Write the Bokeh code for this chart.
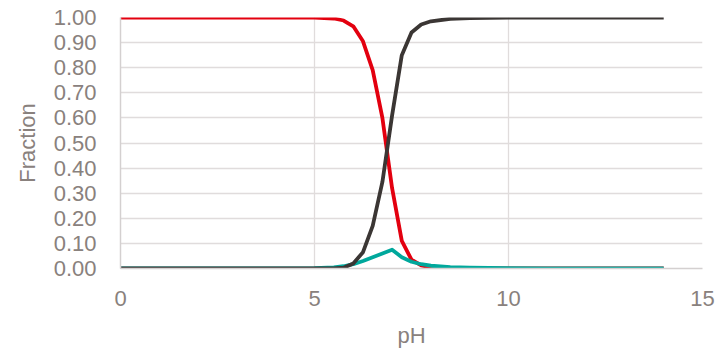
from bokeh.plotting import figure
from bokeh.models import FixedTicker, NumeralTickFormatter, Range1d
from bokeh.embed import file_html
from bokeh.resources import INLINE

ph = [0, 1, 2, 3, 4, 5, 5.5, 5.75, 6.0, 6.25, 6.5, 6.75, 7.0, 7.25, 7.5, 7.75, 8.0, 8.5, 9, 10, 11, 12, 13, 14]
red = [1, 1, 1, 1, 1, 1, 0.996, 0.988, 0.965, 0.905, 0.79, 0.6, 0.32, 0.11, 0.035, 0.012, 0.004, 0.001, 0, 0, 0, 0, 0, 0]
black = [0, 0, 0, 0, 0, 0, 0, 0.003, 0.02, 0.065, 0.17, 0.345, 0.61, 0.85, 0.94, 0.972, 0.985, 0.995, 0.998, 1, 1, 1, 1, 1]
teal = [0, 0, 0, 0, 0, 0.001, 0.004, 0.009, 0.017, 0.03, 0.045, 0.06, 0.075, 0.045, 0.027, 0.017, 0.011, 0.005, 0.003, 0.001, 0, 0, 0, 0]

y_ticks = [0.0, 0.1, 0.2, 0.3, 0.4, 0.5, 0.6, 0.7, 0.8, 0.9, 1.0]
x_ticks = [0, 5, 10, 15]

TXT = "#89817d"
FONT = "Liberation Sans"

p = figure(width=718, height=350, output_backend="svg", toolbar_location=None,
           x_range=Range1d(0, 15), y_range=Range1d(0, 1),
           min_border_left=120, min_border_right=16, min_border_top=17, min_border_bottom=82)
p.outline_line_color = None

p.line(ph, red, line_color="#e3000f", line_width=3.8, line_join="round")
p.line(ph, teal, line_color="#00a89c", line_width=3.8, line_join="round")
p.line(ph, black, line_color="#3b3634", line_width=3.8, line_join="round")

for ax in (p.xaxis[0], p.yaxis[0]):
    ax.major_label_text_font = FONT
    ax.major_label_text_font_size = "22px"
    ax.major_label_text_color = TXT
    ax.axis_label_text_font = FONT
    ax.axis_label_text_font_size = "22px"
    ax.axis_label_text_font_style = "normal"
    ax.axis_label_text_color = TXT
    ax.major_tick_line_color = None
    ax.minor_tick_line_color = None
    ax.axis_line_color = "#d4d0d0"
    ax.axis_line_width = 1.5

p.xaxis.ticker = FixedTicker(ticks=x_ticks)
p.yaxis.ticker = FixedTicker(ticks=y_ticks)
p.yaxis.formatter = NumeralTickFormatter(format="0.00")
p.xaxis.axis_label = "pH"
p.yaxis.axis_label = "Fraction"
p.xaxis.major_label_standoff = 16
p.yaxis.major_label_standoff = 18
p.xaxis.axis_label_standoff = 14
p.yaxis.axis_label_standoff = 11

p.xgrid.ticker = FixedTicker(ticks=x_ticks)
p.ygrid.ticker = FixedTicker(ticks=y_ticks)
p.grid.grid_line_color = "#e0dcdc"
p.grid.grid_line_width = 1.3

open("out.html", "w").write(file_html(p, INLINE))
